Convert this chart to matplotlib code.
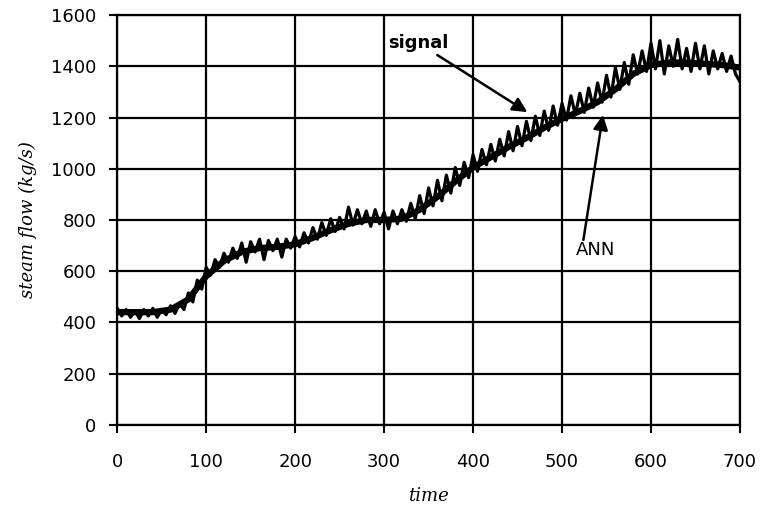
### DEPENDENCIES
### ------------------
import numpy as np
import matplotlib
matplotlib.use("Agg")
import matplotlib.pyplot as plt

### DATA
### ------------------
# measured signal, sampled every 5 time units (read off the picture)
t_signal = np.arange(0, 701, 5)
signal = [
    455, 425, 450, 420, 445, 415, 450, 425, 455, 420, 450, 430,
    465, 435, 475, 450, 515, 480, 565, 530, 615, 585, 645, 615,
    670, 635, 690, 650, 710, 635, 715, 675, 725, 645, 720, 680,
    725, 655, 725, 690, 735, 695, 750, 710, 770, 725, 790, 740,
    805, 755, 810, 765, 850, 780, 840, 785, 835, 775, 840, 785,
    830, 765, 835, 785, 840, 795, 865, 805, 895, 825, 925, 855,
    955, 875, 975, 905, 1005, 935, 1025, 965, 1055, 990, 1075, 1015,
    1095, 1030, 1115, 1050, 1145, 1070, 1165, 1090, 1185, 1110, 1205, 1130,
    1225, 1150, 1245, 1170, 1255, 1190, 1285, 1210, 1295, 1220, 1315, 1240,
    1335, 1260, 1365, 1280, 1395, 1310, 1415, 1330, 1445, 1370, 1460, 1380,
    1490, 1390, 1500, 1370, 1480, 1400, 1505, 1390, 1470, 1380, 1490, 1390,
    1480, 1370, 1460, 1390, 1450, 1380, 1440, 1370, 1340,
]

# ANN estimate
t_ann = np.arange(0, 701, 20)
ann = [
    440, 440, 440, 450, 490, 580, 640, 675, 690, 695, 705, 730,
    760, 785, 800, 800, 805, 840, 890, 950, 1005, 1045, 1085, 1120,
    1160, 1195, 1225, 1260, 1310, 1370, 1405, 1415, 1415, 1410, 1405, 1395,
]

x_ticks = np.arange(0, 701, 100)
y_ticks = np.arange(0, 1601, 200)

### PLOT
### ------------------
fig = plt.figure(figsize=(7.66, 5.2), dpi=100)
ax = fig.add_axes([0.153, 0.183, 0.813, 0.788])

ax.plot(t_signal, signal, color='black', linewidth=2.3)
ax.plot(t_ann, ann, color='black', linewidth=4.5)

ax.set_xlim(0, 700)
ax.set_ylim(0, 1600)
ax.set_xticks(x_ticks)
ax.set_yticks(y_ticks)
ax.tick_params(direction='out', length=6, width=1.5, colors='black',
               labelsize=13, pad=9)
ax.tick_params(axis='x', pad=14)
ax.grid(True, color='black', linewidth=1.6)
for sp in ax.spines.values():
    sp.set_linewidth(1.6)

ax.set_xlabel('time', family='DejaVu Serif', style='italic', fontsize=13,
              labelpad=12)
ax.set_ylabel('steam flow (kg/s)', family='DejaVu Serif', style='italic',
              fontsize=13, labelpad=10)

ax.annotate('signal', xy=(461, 1221), xytext=(305, 1455),
            fontsize=13, fontweight='bold', ha='left', va='bottom',
            arrowprops=dict(arrowstyle='-|>', color='black', lw=1.8,
                            mutation_scale=22, shrinkA=0, shrinkB=0))
ax.annotate('', xy=(546, 1210), xytext=(524, 722),
            arrowprops=dict(arrowstyle='-|>', color='black', lw=1.8,
                            mutation_scale=22, shrinkA=0, shrinkB=0))
ax.text(515, 683, 'ANN', fontsize=13, ha='left', va='center')

fig.savefig('out.png', dpi=100)
